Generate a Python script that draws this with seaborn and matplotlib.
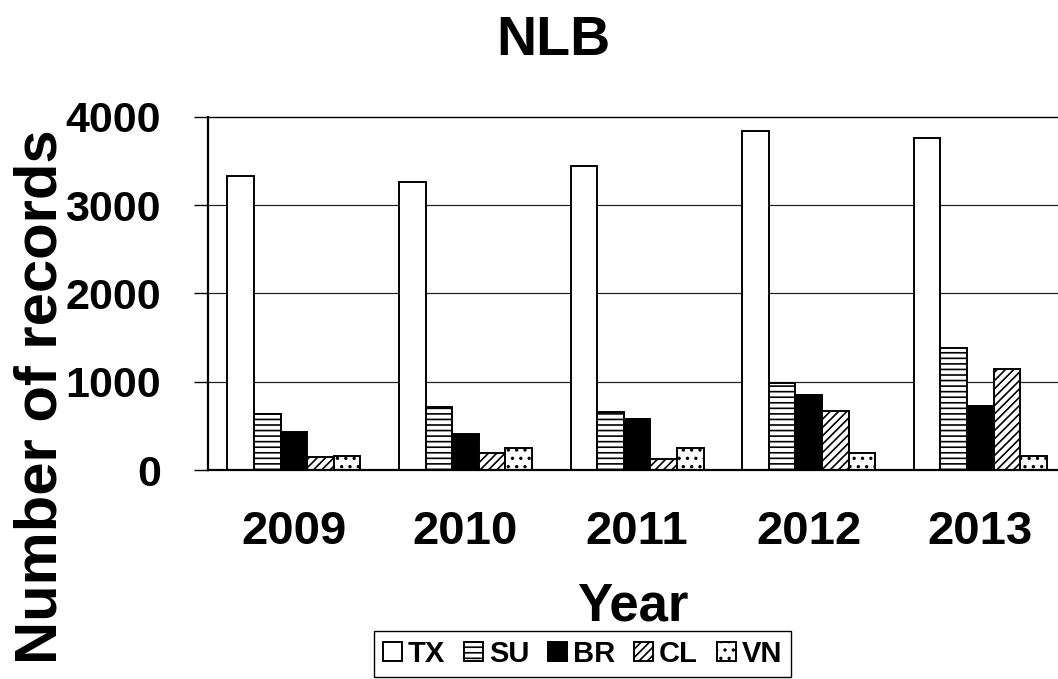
import numpy as np
import pandas as pd
import matplotlib
matplotlib.use("Agg")
import matplotlib.pyplot as plt
import seaborn as sns

# values
years = ["2009", "2010", "2011", "2012", "2013"]
types = ["TX", "SU", "BR", "CL", "VN"]
tx = [3330, 3260, 3440, 3840, 3760]
su = [640, 718, 654, 982, 1379]
br = [434, 408, 574, 850, 725]
cl = [151, 196, 125, 672, 1141]
vn = [162, 246, 246, 196, 159]
y_ticks = [0, 1000, 2000, 3000, 4000]

face = {"TX": "white", "SU": "white", "BR": "black", "CL": "white", "VN": "white"}
hatch = {"TX": "", "SU": "---", "BR": "", "CL": "////", "VN": ".."}

series = {"TX": tx, "SU": su, "BR": br, "CL": cl, "VN": vn}
df = pd.DataFrame([(y, t, series[t][i]) for t in types for i, y in enumerate(years)],
                  columns=["Year", "Type", "Count"])

sns.set_style("white")
plt.rcParams['font.family'] = ['Liberation Sans', 'DejaVu Sans']
plt.rcParams['font.weight'] = 'bold'
plt.rcParams['hatch.linewidth'] = 1.2
for k in ['text.color', 'axes.labelcolor', 'xtick.color', 'ytick.color']:
    plt.rcParams[k] = 'black'

fig = plt.figure(figsize=(10.58, 6.79), dpi=100)
ax = fig.add_axes([0.1966, 0.3078, 0.8110, 0.5199])

ax.grid(False)
for v in y_ticks[1:-1]:
    ax.axhline(v, color="#222222", lw=0.9, zorder=0)

sns.barplot(data=df, x="Year", y="Count", hue="Type", hue_order=types,
            palette=face, edgecolor="black", linewidth=1.4, width=0.775,
            saturation=1, legend=False, ax=ax, zorder=2)

for cont, t in zip(ax.containers, types):
    for p in cont.patches:
        p.set_hatch(hatch[t])

ax.set_xlim(-0.5, len(years) - 0.5)
ax.set_ylim(0, 4000)
ax.set_yticks(y_ticks)
ax.set_yticklabels([str(v) for v in y_ticks], fontsize=31, fontweight='bold')
ax.set_xticks(range(len(years)))
ax.set_xticklabels(years, fontsize=34, fontweight='bold')
ax.set_xticks(np.arange(-0.5, len(years), 1.0), minor=True)
ax.tick_params(axis='x', which='major', length=0, pad=29)
ax.tick_params(axis='x', which='minor', length=7, width=1, direction='out', color='black')
ax.tick_params(axis='y', length=10, width=1, direction='out', color='black', pad=24, left=True)

for s in ["left", "bottom", "top"]:
    ax.spines[s].set_visible(True)
    ax.spines[s].set_color("black")
ax.spines["left"].set_linewidth(1.6)
ax.spines["bottom"].set_linewidth(1.6)
ax.spines["top"].set_linewidth(1.0)
ax.spines["right"].set_visible(False)

ax.set_xlabel("Year", fontsize=38, fontweight='bold')
ax.xaxis.set_label_coords(0.495, -0.315)
ax.set_ylabel("Number of records", fontsize=43, fontweight='bold')
ax.yaxis.set_label_coords(-0.163, 0.208)

fig.text(553 / 1058, 1 - 55 / 679, "NLB", fontsize=40, fontweight='bold',
         ha='center', va='baseline')

leg = ax.legend(ax.containers, types, ncol=5, loc='upper center',
                bbox_to_anchor=(582.5 / 1058, 1 - 631 / 679), bbox_transform=fig.transFigure,
                prop={'size': 21, 'weight': 'bold'}, frameon=True, fancybox=False,
                edgecolor='black', framealpha=1, handlelength=0.65, handleheight=0.65,
                handletextpad=0.2, columnspacing=0.65, borderpad=0.3, borderaxespad=0)
leg.get_frame().set_linewidth(1.0)

fig.savefig("out.png", dpi=100)
